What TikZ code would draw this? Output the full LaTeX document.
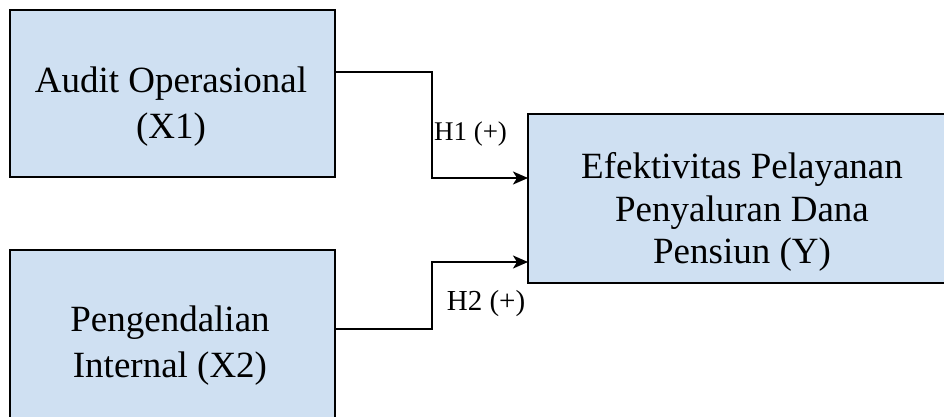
\documentclass[tikz,border=0pt]{standalone}
\usepackage{fontspec}
\setmainfont{Liberation Serif}
\usetikzlibrary{arrows.meta}
\definecolor{boxfill}{RGB}{207,224,242}
\tikzset{
  box/.style={draw=black, line width=2pt, fill=boxfill, inner sep=0pt, outer sep=0pt},
  boxtext/.style={align=center, anchor=base, inner sep=0pt, font={\fontsize{37}{45.5}\selectfont}},
  hyp/.style={anchor=base, inner sep=0pt},
  conn/.style={draw=black, line width=2pt, -{Stealth[length=15pt,width=13pt,inset=4pt]}}
}
\begin{document}
\begin{tikzpicture}[x=1pt,y=-1pt]
\useasboundingbox (0,0) rectangle (944,416);
\clip (0,0) rectangle (944,416);
\node[box, minimum width=325pt, minimum height=167pt] (x1) at (172.5,93.5) {};
\node[box, minimum width=325pt, minimum height=180pt] (x2) at (172.5,340) {};
\node[box, minimum width=432pt, minimum height=169pt] (y) at (744,198.5) {};
\node[boxtext] (t1) at (171,138) {Audit Operasional\\(X1)};
\node[boxtext] (t2) at (170,377) {Pengendalian\\Internal (X2)};
\node[boxtext, font={\fontsize{37}{42.5}\selectfont}] (t3) at (742,263.5) {Efektivitas Pelayanan\\Penyaluran Dana\\Pensiun (Y)};
\coordinate (a1) at ([yshift=-62pt]x1.north east);
\coordinate (b1) at ([yshift=-64pt]y.north west);
\coordinate (a2) at ([yshift=-79pt]x2.north east);
\coordinate (b2) at ([yshift=-148pt]y.north west);
\coordinate (m) at (432,0);
\draw[conn] (a1) -| (m |- b1) -- (b1);
\draw[conn] (a2) -| (m |- b2) -- (b2);
\node[hyp, font={\fontsize{27}{32}\selectfont}] (h1) at (470.5,140) {H1 (+)};
\node[hyp, font={\fontsize{29}{34}\selectfont}] (h2) at (486,310) {H2 (+)};
\end{tikzpicture}
\end{document}
